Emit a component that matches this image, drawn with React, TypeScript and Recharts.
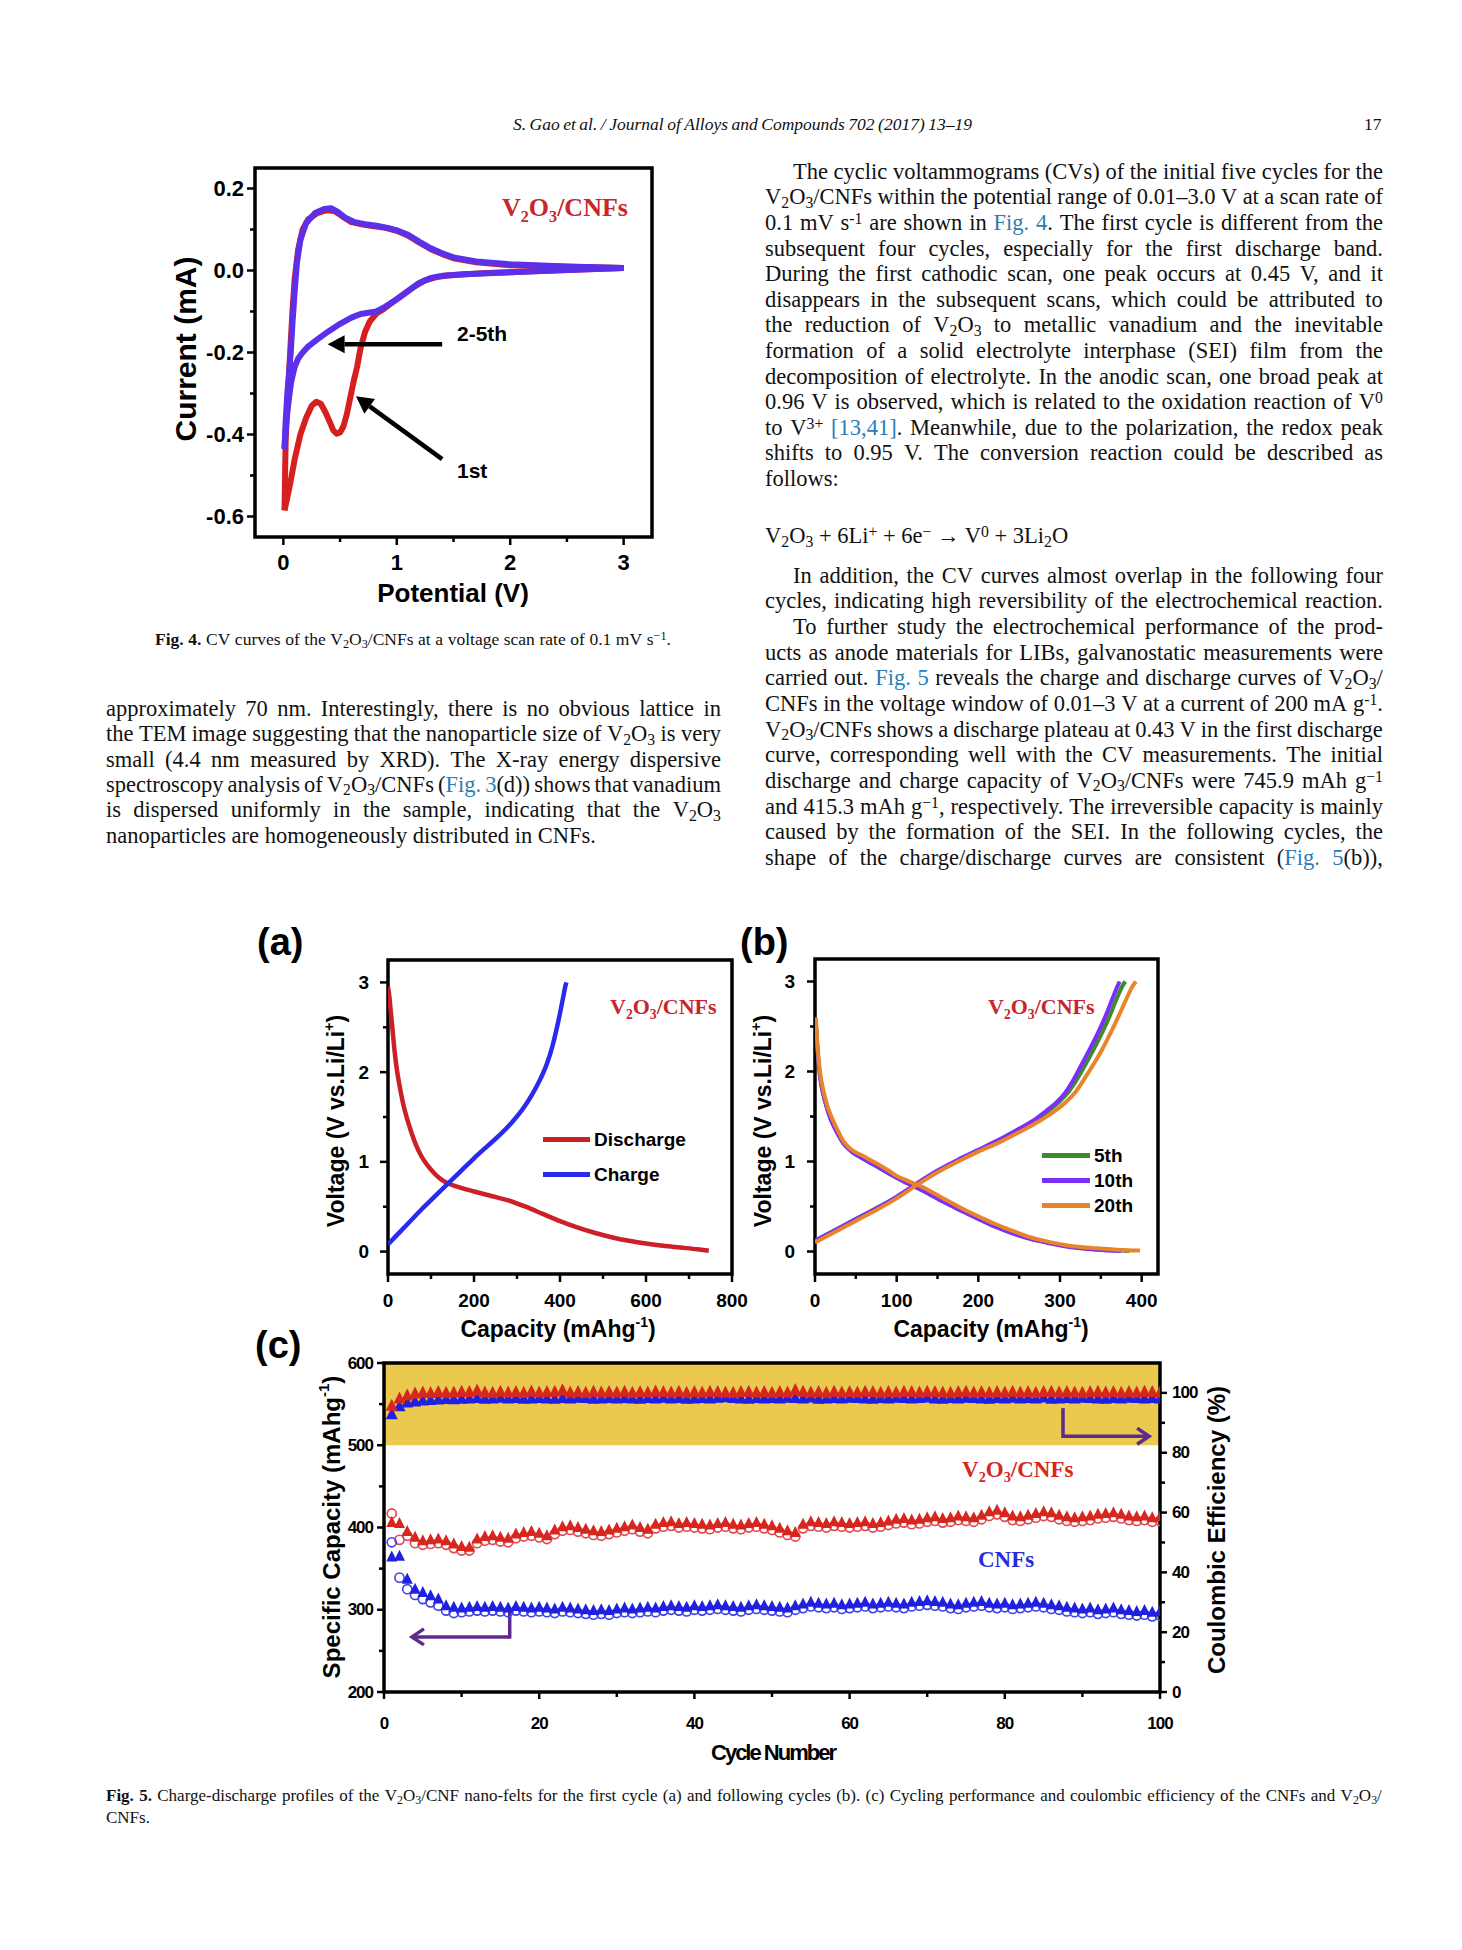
import React from 'react';
import {
  LineChart, Line, XAxis, YAxis, ReferenceArea, ReferenceLine, Customized, Legend,
  ScatterChart, Scatter,
} from 'recharts';

const SANS = "'Liberation Sans', Arial, Helvetica, sans-serif";
const SERIF = "'Liberation Serif', 'Times New Roman', serif";
const INK = '#111';
const LINK = '#2b7bb5';
const LABEL_RED = '#c9252c';

// ---------------- Fig. 4 (CV) data ----------------
const cv1CathV = [3.0, 2.8, 2.5, 2.2, 2.0, 1.8, 1.6, 1.45, 1.35, 1.25, 1.15, 1.05, 0.95, 0.88, 0.82, 0.76, 0.72, 0.68, 0.65, 0.62, 0.59, 0.56, 0.53, 0.5, 0.47, 0.44, 0.41, 0.37, 0.33, 0.29, 0.25, 0.2, 0.15, 0.1, 0.06, 0.03, 0.01];
const cv1CathI = [0.006, 0.004, 0.001, -0.002, -0.004, -0.006, -0.009, -0.012, -0.016, -0.024, -0.04, -0.06, -0.08, -0.095, -0.105, -0.125, -0.15, -0.19, -0.235, -0.27, -0.31, -0.35, -0.38, -0.395, -0.398, -0.39, -0.37, -0.345, -0.325, -0.32, -0.33, -0.36, -0.4, -0.46, -0.52, -0.56, -0.585];
const cv1AnodV = [0.01, 0.015, 0.02, 0.03, 0.045, 0.06, 0.08, 0.1, 0.13, 0.17, 0.22, 0.3, 0.38, 0.45, 0.52, 0.6, 0.7, 0.8, 0.9, 1.0, 1.1, 1.2, 1.3, 1.4, 1.5, 1.7, 2.0, 2.5, 3.0];
const cv1AnodI = [-0.585, -0.5, -0.42, -0.35, -0.28, -0.2, -0.1, -0.02, 0.05, 0.1, 0.125, 0.14, 0.147, 0.145, 0.132, 0.118, 0.112, 0.108, 0.104, 0.097, 0.085, 0.068, 0.052, 0.04, 0.03, 0.02, 0.013, 0.009, 0.006];
const cvCathV = [3.0, 2.5, 2.0, 1.6, 1.4, 1.3, 1.2, 1.1, 1.0, 0.9, 0.82, 0.75, 0.68, 0.6, 0.5, 0.4, 0.3, 0.22, 0.17, 0.13, 0.1, 0.07, 0.05, 0.03, 0.015, 0.01];
const cvCathI = [0.006, 0.001, -0.004, -0.009, -0.013, -0.018, -0.03, -0.05, -0.07, -0.088, -0.1, -0.103, -0.106, -0.115, -0.13, -0.148, -0.168, -0.185, -0.2, -0.215, -0.235, -0.27, -0.31, -0.36, -0.41, -0.435];
const cvAnodV = [0.01, 0.02, 0.035, 0.05, 0.065, 0.08, 0.1, 0.12, 0.15, 0.2, 0.28, 0.36, 0.42, 0.48, 0.55, 0.63, 0.72, 0.82, 0.92, 1.0, 1.1, 1.2, 1.3, 1.4, 1.5, 1.7, 2.0, 2.5, 3.0];
const cvAnodI = [-0.435, -0.37, -0.3, -0.25, -0.2, -0.13, -0.05, 0.02, 0.075, 0.115, 0.14, 0.15, 0.152, 0.143, 0.128, 0.118, 0.113, 0.109, 0.104, 0.098, 0.087, 0.07, 0.054, 0.042, 0.032, 0.022, 0.015, 0.01, 0.006];

// ---------------- Fig. 5(a) data ----------------
const aDisCap = [0, 3, 6, 10, 15, 20, 28, 36, 45, 55, 65, 78, 92, 108, 125, 145, 170, 200, 240, 280, 320, 360, 400, 440, 480, 520, 560, 600, 640, 680, 720, 746];
const aDisV = [2.95, 2.85, 2.7, 2.5, 2.25, 2.05, 1.82, 1.63, 1.47, 1.32, 1.19, 1.06, 0.96, 0.87, 0.8, 0.75, 0.71, 0.67, 0.62, 0.57, 0.5, 0.42, 0.34, 0.27, 0.21, 0.16, 0.12, 0.09, 0.065, 0.045, 0.025, 0.01];
const aChgCap = [0, 20, 50, 80, 110, 140, 170, 200, 230, 260, 290, 315, 335, 355, 370, 383, 393, 401, 408, 412, 415];
const aChgV = [0.08, 0.18, 0.33, 0.48, 0.62, 0.76, 0.9, 1.04, 1.17, 1.3, 1.45, 1.6, 1.75, 1.93, 2.1, 2.3, 2.5, 2.68, 2.85, 2.95, 3.0];

// ---------------- Fig. 5(b) data ----------------
const b5DisCap = [1, 3, 6, 10, 15, 20, 27, 35, 45, 59, 75, 90, 100, 115, 133, 155, 182, 205, 222, 245, 263, 285, 304, 325, 345, 365, 385];
const b5DisV = [2.55, 2.25, 1.96, 1.76, 1.59, 1.46, 1.33, 1.2, 1.11, 1.03, 0.95, 0.87, 0.82, 0.75, 0.68, 0.57, 0.45, 0.35, 0.28, 0.2, 0.145, 0.1, 0.065, 0.04, 0.025, 0.015, 0.005];
const b10DisCap = [1, 3, 6, 10, 15, 20, 27, 35, 45, 59, 75, 90, 100, 115, 133, 155, 182, 205, 222, 245, 263, 285, 304, 325, 345, 375];
const b10DisV = [2.55, 2.25, 1.95, 1.75, 1.58, 1.45, 1.32, 1.2, 1.11, 1.03, 0.95, 0.87, 0.82, 0.75, 0.67, 0.56, 0.44, 0.34, 0.27, 0.19, 0.14, 0.095, 0.06, 0.035, 0.02, 0.005];
const b20DisCap = [1, 3, 6, 10, 15, 20, 27, 35, 45, 59, 75, 90, 100, 115, 133, 155, 182, 205, 222, 245, 263, 285, 304, 325, 345, 370, 398];
const b20DisV = [2.6, 2.3, 2.0, 1.8, 1.62, 1.5, 1.36, 1.22, 1.13, 1.06, 0.98, 0.9, 0.84, 0.78, 0.71, 0.6, 0.47, 0.37, 0.3, 0.22, 0.16, 0.11, 0.075, 0.05, 0.035, 0.02, 0.01];
const b5ChgCap = [0, 25, 50, 75, 100, 125, 150, 175, 200, 225, 251, 272, 287, 300, 311, 322, 332, 342, 352, 361, 369, 377, 380];
const b5ChgV = [0.12, 0.24, 0.36, 0.48, 0.6, 0.75, 0.89, 1.01, 1.12, 1.23, 1.36, 1.47, 1.57, 1.67, 1.78, 1.93, 2.09, 2.26, 2.44, 2.62, 2.8, 2.96, 3.0];
const b10ChgCap = [0, 25, 50, 75, 100, 125, 150, 175, 200, 225, 251, 270, 284, 296, 306, 316, 326, 336, 346, 355, 363, 370, 373];
const b10ChgV = [0.12, 0.24, 0.36, 0.48, 0.61, 0.76, 0.9, 1.02, 1.13, 1.24, 1.37, 1.47, 1.57, 1.66, 1.76, 1.9, 2.07, 2.24, 2.42, 2.6, 2.78, 2.94, 3.0];
const b20ChgCap = [0, 25, 50, 75, 100, 125, 150, 175, 200, 225, 251, 275, 292, 306, 318, 330, 341, 352, 362, 372, 381, 389, 393];
const b20ChgV = [0.1, 0.22, 0.34, 0.46, 0.59, 0.74, 0.88, 1.0, 1.11, 1.21, 1.33, 1.45, 1.55, 1.65, 1.76, 1.92, 2.08, 2.25, 2.43, 2.62, 2.8, 2.95, 3.0];

// ---------------- Fig. 5(c) data (cycles 1..100) ----------------
const capV2O3Dis = [
  406, 405, 395, 388, 384, 385, 386, 384, 380, 377,
  376, 386, 389, 390, 388, 387, 392, 394, 395, 393,
  390, 397, 401, 402, 400, 398, 396, 395, 397, 399,
  401, 403, 400, 398, 404, 406, 407, 405, 406, 405,
  404, 403, 405, 406, 404, 403, 405, 406, 404, 402,
  399, 396, 394, 404, 407, 406, 405, 407, 406, 405,
  406, 407, 405, 406, 408, 410, 411, 409, 410, 412,
  413, 411, 412, 414, 413, 412, 415, 419, 421, 418,
  414, 413, 415, 417, 419, 418, 415, 413, 412, 413,
  414, 416, 417, 418, 416, 414, 413, 414, 412, 413];
const capV2O3Chg = [
  417, 385, 390, 381, 379, 380, 381, 379, 375, 372,
  372, 381, 384, 385, 383, 382, 387, 389, 390, 388,
  386, 392, 396, 397, 395, 393, 391, 390, 392, 394,
  396, 398, 395, 393, 399, 401, 402, 400, 401, 400,
  399, 398, 400, 401, 399, 398, 400, 401, 399, 397,
  394, 391, 389, 399, 402, 401, 400, 402, 401, 400,
  401, 402, 400, 401, 403, 405, 406, 404, 405, 407,
  408, 406, 407, 409, 408, 407, 410, 414, 416, 413,
  409, 408, 410, 412, 414, 413, 410, 408, 407, 408,
  409, 411, 412, 413, 411, 409, 408, 409, 407, 408];
const capCNFDis = [
  364, 365, 337, 325, 321, 317, 313, 305, 303, 302,
  303, 304, 303, 304, 303, 302, 304, 303, 302, 303,
  302, 301, 303, 302, 301, 300, 299, 300, 299, 301,
  302, 301, 302, 303, 302, 304, 305, 304, 303, 305,
  304, 305, 306, 305, 304, 303, 305, 306, 305, 304,
  303, 302, 305, 307, 309, 308, 307, 308, 306, 307,
  308, 309, 307, 308, 309, 308, 307, 309, 310, 311,
  310, 309, 307, 306, 308, 309, 310, 308, 307, 308,
  306, 307, 308, 309, 308, 306, 305, 303, 302, 301,
  302, 300, 301, 302, 300, 299, 298, 299, 297, 298];
const capCNFChg = [
  382, 339, 325, 318, 313, 309, 305, 299, 296, 297,
  298, 299, 298, 299, 298, 297, 299, 298, 297, 298,
  297, 296, 298, 297, 296, 295, 294, 295, 294, 296,
  297, 296, 297, 298, 297, 299, 300, 299, 298, 300,
  299, 300, 301, 300, 299, 298, 300, 301, 300, 299,
  298, 297, 300, 302, 304, 303, 302, 303, 301, 302,
  303, 304, 302, 303, 304, 303, 302, 304, 305, 306,
  305, 304, 302, 301, 303, 304, 305, 303, 302, 303,
  301, 302, 303, 304, 303, 301, 300, 298, 297, 296,
  297, 295, 296, 297, 295, 294, 293, 294, 292, 293];
const ceV2O3 = [
  95.5, 98.0, 99.0, 99.6, 100.0, 99.8, 100.1, 99.9, 100.0, 100.2,
  100.1, 100.6, 100.0, 99.9, 100.2, 100.0, 100.1, 99.9, 100.3, 100.0,
  100.1, 100.2, 100.7, 100.0, 100.1, 99.9, 100.2, 100.0, 100.1, 100.0,
  100.2, 99.9, 100.1, 100.0, 100.3, 100.1, 100.0, 100.2, 99.9, 100.1,
  100.0, 100.2, 100.1, 100.0, 99.9, 100.1, 100.2, 100.0, 100.1, 99.9,
  100.1, 100.0, 100.8, 100.2, 100.0, 100.1, 99.9, 100.2, 100.0, 100.1,
  100.0, 100.2, 100.1, 99.9, 100.1, 100.0, 100.2, 100.1, 100.0, 100.2,
  100.1, 100.0, 99.9, 100.1, 100.2, 100.0, 100.1, 99.9, 100.1, 100.0,
  100.2, 100.0, 100.1, 99.9, 100.1, 100.2, 100.0, 100.1, 100.0, 99.9,
  100.1, 100.2, 100.0, 100.1, 99.9, 100.1, 100.0, 100.2, 100.1, 100.0];
const ceCNF = [
  92.7, 95.4, 96.6, 97.0, 97.3, 97.5, 97.6, 97.8, 97.7, 97.9,
  98.0, 98.1, 97.9, 98.0, 98.2, 98.0, 98.1, 97.9, 98.0, 98.1,
  98.0, 97.9, 98.1, 98.0, 98.2, 98.1, 97.9, 98.0, 98.1, 98.0,
  98.1, 98.0, 97.9, 98.1, 98.0, 98.2, 98.0, 98.1, 97.9, 98.0,
  98.1, 98.0, 98.2, 98.4, 98.1, 98.0, 97.9, 98.1, 98.0, 98.1,
  98.0, 98.2, 98.1, 98.0, 98.3, 97.9, 98.0, 98.1, 98.0, 98.2,
  98.1, 98.0, 97.9, 98.1, 98.0, 98.2, 98.1, 98.0, 98.1, 98.3,
  98.0, 97.9, 98.1, 98.0, 98.2, 98.1, 98.0, 97.9, 98.1, 98.0,
  98.2, 98.0, 98.1, 98.0, 98.3, 97.9, 98.0, 98.1, 98.0, 98.2,
  98.1, 98.0, 97.9, 98.1, 98.0, 98.2, 98.1, 98.0, 98.1, 98.0];

// axis tick values
const f4XTicks = [0, 0.5, 1, 1.5, 2, 2.5, 3];
const f4XMajor = [0, 1, 2, 3];
const f4YTicks = [-0.6, -0.5, -0.4, -0.3, -0.2, -0.1, 0, 0.1, 0.2];
const f4YMajor = [-0.6, -0.4, -0.2, 0, 0.2];
const aXTicks = [0, 100, 200, 300, 400, 500, 600, 700, 800];
const aXMajor = [0, 200, 400, 600, 800];
const vTicks = [0, 0.5, 1, 1.5, 2, 2.5, 3];
const vMajor = [0, 1, 2, 3];
const bXTicks = [0, 50, 100, 150, 200, 250, 300, 350, 400];
const bXMajor = [0, 100, 200, 300, 400];
const cXTicks = [0, 10, 20, 30, 40, 50, 60, 70, 80, 90, 100];
const cXMajor = [0, 20, 40, 60, 80, 100];
const cLTicks = [200, 250, 300, 350, 400, 450, 500, 550, 600];
const cLMajor = [200, 300, 400, 500, 600];
const cRTicks = [0, 10, 20, 30, 40, 50, 60, 70, 80, 90, 100];
const cRMajor = [0, 20, 40, 60, 80, 100];

const zip = (xs: number[], ys: number[]) =>
  xs.slice(0, Math.min(xs.length, ys.length)).map((x, i) => ({ x, y: ys[i] }));
const cycles = capV2O3Dis.map((_, i) => i + 1);
const series = (vals: number[]) => vals.map((v, i) => ({ cycle: cycles[i], v }));

// ---------------- tick renderers ----------------
type TickCfg = { majors: number[]; fmt: (v: number) => string; major: number; minor: number; offset: number; size: number; spacing?: number };
const isMajor = (list: number[], v: number) => list.some((m) => Math.abs(m - v) < 1e-6);

const bottomTick = (c: TickCfg) => (p: any) => {
  const v = Number(p.payload?.value);
  const mj = isMajor(c.majors, v);
  return (
    <g>
      <line x1={p.x} y1={p.y} x2={p.x} y2={p.y + (mj ? c.major : c.minor)} stroke="#000" strokeWidth={2.5} />
      {mj && (
        <text x={p.x} y={p.y + c.offset} textAnchor="middle" dominantBaseline="central" fontFamily={SANS}
          fontWeight="bold" fontSize={c.size} letterSpacing={c.spacing || 0} fill="#000">{c.fmt(v)}</text>
      )}
    </g>
  );
};
const leftTick = (c: TickCfg) => (p: any) => {
  const v = Number(p.payload?.value);
  const mj = isMajor(c.majors, v);
  return (
    <g>
      <line x1={p.x} y1={p.y} x2={p.x - (mj ? c.major : c.minor)} y2={p.y} stroke="#000" strokeWidth={2.5} />
      {mj && (
        <text x={p.x - c.offset} y={p.y} textAnchor="end" dominantBaseline="central" fontFamily={SANS}
          fontWeight="bold" fontSize={c.size} letterSpacing={c.spacing || 0} fill="#000">{c.fmt(v)}</text>
      )}
    </g>
  );
};
const rightTick = (c: TickCfg) => (p: any) => {
  const v = Number(p.payload?.value);
  const mj = isMajor(c.majors, v);
  return (
    <g>
      <line x1={p.x} y1={p.y} x2={p.x + (mj ? c.major : c.minor)} y2={p.y} stroke="#000" strokeWidth={2.5} />
      {mj && (
        <text x={p.x + c.offset} y={p.y} textAnchor="start" dominantBaseline="central" fontFamily={SANS}
          fontWeight="bold" fontSize={c.size} letterSpacing={c.spacing || 0} fill="#000">{c.fmt(v)}</text>
      )}
    </g>
  );
};

const axisCommon = { axisLine: false, tickLine: false, tickSize: 0, tickMargin: 0, interval: 0 as const, allowDataOverflow: true };

// ---------------- arrow shapes ----------------
const arrowGeom = (x1: number, y1: number, x2: number, y2: number, L: number, W: number) => {
  const a = Math.atan2(y2 - y1, x2 - x1);
  const bx = x2 - L * Math.cos(a);
  const by = y2 - L * Math.sin(a);
  const px = -Math.sin(a) * W;
  const py = Math.cos(a) * W;
  return { bx, by, px, py };
};
const blackArrow = (p: any) => {
  const { x1, y1, x2, y2 } = p;
  const g = arrowGeom(x1, y1, x2, y2, 17, 9);
  return (
    <g>
      <line x1={x1} y1={y1} x2={g.bx} y2={g.by} stroke="#000" strokeWidth={4.5} />
      <polygon points={`${x2},${y2} ${g.bx + g.px},${g.by + g.py} ${g.bx - g.px},${g.by - g.py}`} fill="#000" />
    </g>
  );
};
const PURPLE = '#5f2a8e';
const purpleSeg = (p: any) => (
  <line x1={p.x1} y1={p.y1} x2={p.x2} y2={p.y2} stroke={PURPLE} strokeWidth={3.5} strokeLinecap="square" />
);
const purpleArrow = (p: any) => {
  const { x1, y1, x2, y2 } = p;
  const g = arrowGeom(x1, y1, x2, y2, 12, 8);
  return (
    <g>
      <line x1={x1} y1={y1} x2={x2} y2={y2} stroke={PURPLE} strokeWidth={3.5} />
      <polyline points={`${g.bx + g.px},${g.by + g.py} ${x2},${y2} ${g.bx - g.px},${g.by - g.py}`} fill="none"
        stroke={PURPLE} strokeWidth={3.5} strokeLinejoin="miter" />
    </g>
  );
};

// ---------------- chemistry labels (SVG) ----------------
const ChemV2O3 = ({ x, y, size, fill }: any) => (
  <text x={x} y={y} fontFamily={SERIF} fontWeight="bold" fontSize={size} fill={fill}>
    V<tspan fontSize={size * 0.62} dy={size * 0.22}>2</tspan>
    <tspan dy={-size * 0.22}>O</tspan>
    <tspan fontSize={size * 0.62} dy={size * 0.22}>3</tspan>
    <tspan dy={-size * 0.22}>/CNFs</tspan>
  </text>
);

const rot = (x: number, y: number) => `rotate(-90 ${x} ${y})`;

// ---------------- Fig 4 ----------------
const Fig4Notes = () => (
  <g fontFamily={SANS} fontWeight="bold" fill="#000">
    <text x={35} y={199} transform={rot(35, 199)} textAnchor="middle" dominantBaseline="central" fontSize={30}>Current (mA)</text>
    <text x={303} y={443} textAnchor="middle" dominantBaseline="central" fontSize={26}>Potential (V)</text>
    <ChemV2O3 x={352} y={66} size={26} fill={LABEL_RED} />
    <text x={307} y={183} dominantBaseline="central" fontSize={21}>2-5th</text>
    <text x={307} y={320} dominantBaseline="central" fontSize={21}>1st</text>
  </g>
);

function Fig4() {
  const red = '#d6201f';
  const blue = '#5c2fea';
  return (
    <div style={{ position: 'absolute', left: 150, top: 150 }}>
      <LineChart width={540} height={480} margin={{ top: 18, right: 38, left: 0, bottom: 0 }}>
        <XAxis dataKey="x" type="number" domain={[-0.25, 3.25]} ticks={f4XTicks} height={93} {...axisCommon}
          tick={bottomTick({ majors: f4XMajor, fmt: (v) => String(v), major: 8, minor: 5, offset: 25, size: 22 })} />
        <YAxis dataKey="y" type="number" domain={[-0.65, 0.25]} ticks={f4YTicks} width={105} {...axisCommon}
          tick={leftTick({ majors: f4YMajor, fmt: (v) => v.toFixed(1), major: 8, minor: 5, offset: 11, size: 22 })} />
        <Line data={zip(cv1CathV, cv1CathI)} dataKey="y" type="linear" dot={false} stroke={red} strokeWidth={6} isAnimationActive={false} strokeLinejoin="round" />
        <Line data={zip(cv1AnodV, cv1AnodI)} dataKey="y" type="linear" dot={false} stroke={red} strokeWidth={6} isAnimationActive={false} strokeLinejoin="round" />
        <Line data={zip(cvCathV, cvCathI)} dataKey="y" type="linear" dot={false} stroke={blue} strokeWidth={6} isAnimationActive={false} strokeLinejoin="round" />
        <Line data={zip(cvAnodV, cvAnodI)} dataKey="y" type="linear" dot={false} stroke={blue} strokeWidth={6} isAnimationActive={false} strokeLinejoin="round" />
        <ReferenceArea x1={-0.25} x2={3.25} y1={-0.65} y2={0.25} fill="none" stroke="#000" strokeWidth={3.5} />
        <ReferenceLine segment={[{ x: 1.4, y: -0.18 }, { x: 0.39, y: -0.18 }]} shape={blackArrow} />
        <ReferenceLine segment={[{ x: 1.4, y: -0.46 }, { x: 0.64, y: -0.307 }]} shape={blackArrow} />
        <Customized component={Fig4Notes} />
      </LineChart>
    </div>
  );
}

// ---------------- Fig 5 legend ----------------
const makeLegend = (order: string[], rowH: number, lineW: number) => (props: any) => {
  const items = (props.payload || [])
    .filter((p: any) => order.includes(p.value))
    .sort((a: any, b: any) => order.indexOf(a.value) - order.indexOf(b.value));
  return (
    <div>
      {items.map((p: any) => (
        <div key={p.value} style={{ display: 'flex', alignItems: 'center', height: rowH }}>
          <span style={{ display: 'inline-block', width: lineW, height: 5, background: p.color, marginRight: 4 }} />
          <span style={{ fontFamily: SANS, fontWeight: 'bold', fontSize: 19, color: '#000', lineHeight: rowH + 'px' }}>{p.value}</span>
        </div>
      ))}
    </div>
  );
};

const VoltTitle = ({ x, y }: any) => (
  <text x={x} y={y} transform={rot(x, y)} textAnchor="middle" dominantBaseline="central" fontSize={23}>
    Voltage (V vs.Li/Li<tspan fontSize={14} dy={-7}>+</tspan><tspan dy={7}>)</tspan>
  </text>
);
const CapTitle = ({ x, y }: any) => (
  <text x={x} y={y} textAnchor="middle" dominantBaseline="central" fontSize={23}>
    Capacity (mAhg<tspan fontSize={14} dy={-7}>-1</tspan><tspan dy={7}>)</tspan>
  </text>
);

const FigANotes = () => (
  <g fontFamily={SANS} fontWeight="bold" fill="#000">
    <text x={17} y={27} dominantBaseline="central" fontSize={38}>(a)</text>
    <VoltTitle x={96} y={206} />
    <CapTitle x={318} y={414} />
    <ChemV2O3 x={370} y={99} size={22} fill={LABEL_RED} />
  </g>
);
const FigBNotes = () => (
  <g fontFamily={SANS} fontWeight="bold" fill="#000">
    <text x={10} y={27} dominantBaseline="central" fontSize={38}>(b)</text>
    <VoltTitle x={33} y={206} />
    <CapTitle x={261} y={414} />
    <ChemV2O3 x={258} y={99} size={22} fill={LABEL_RED} />
  </g>
);

function Fig5a() {
  return (
    <div style={{ position: 'absolute', left: 240, top: 915 }}>
      <LineChart width={510} height={435} margin={{ top: 45, right: 18, left: 0, bottom: 0 }}>
        <XAxis dataKey="x" type="number" domain={[0, 800]} ticks={aXTicks} height={76} {...axisCommon}
          tick={bottomTick({ majors: aXMajor, fmt: (v) => String(v), major: 8, minor: 5, offset: 26, size: 19 })} />
        <YAxis dataKey="y" type="number" domain={[-0.25, 3.25]} ticks={vTicks} width={148} {...axisCommon}
          tick={leftTick({ majors: vMajor, fmt: (v) => String(v), major: 8, minor: 5, offset: 19, size: 19 })} />
        <Line name="Discharge" data={zip(aDisCap, aDisV)} dataKey="y" type="monotone" dot={false} stroke="#cc2027" strokeWidth={4.5} isAnimationActive={false} />
        <Line name="Charge" data={zip(aChgCap, aChgV)} dataKey="y" type="monotone" dot={false} stroke="#2a2aee" strokeWidth={4.5} isAnimationActive={false} />
        <ReferenceArea x1={0} x2={800} y1={-0.25} y2={3.25} fill="none" stroke="#000" strokeWidth={3.5} />
        <Legend layout="vertical" align="center" verticalAlign="middle" wrapperStyle={{ left: 303, top: 206.5, width: 200 }}
          content={makeLegend(['Discharge', 'Charge'], 35, 47)} />
        <Customized component={FigANotes} />
      </LineChart>
    </div>
  );
}

function Fig5b() {
  const green = '#3c8c2c';
  const purple = '#7b2ff7';
  const orange = '#e8842a';
  return (
    <div style={{ position: 'absolute', left: 730, top: 915 }}>
      <LineChart width={450} height={435} margin={{ top: 44, right: 22, left: 0, bottom: 0 }}>
        <XAxis dataKey="x" type="number" domain={[0, 420]} ticks={bXTicks} height={76} {...axisCommon}
          tick={bottomTick({ majors: bXMajor, fmt: (v) => String(v), major: 8, minor: 5, offset: 26, size: 19 })} />
        <YAxis dataKey="y" type="number" domain={[-0.25, 3.25]} ticks={vTicks} width={85} {...axisCommon}
          tick={leftTick({ majors: vMajor, fmt: (v) => String(v), major: 8, minor: 5, offset: 20, size: 19 })} />
        <Line name="5th" data={zip(b5DisCap, b5DisV)} dataKey="y" type="monotone" dot={false} stroke={green} strokeWidth={4} isAnimationActive={false} />
        <Line name="5th charge" legendType="none" data={zip(b5ChgCap, b5ChgV)} dataKey="y" type="monotone" dot={false} stroke={green} strokeWidth={4} isAnimationActive={false} />
        <Line name="10th" data={zip(b10DisCap, b10DisV)} dataKey="y" type="monotone" dot={false} stroke={purple} strokeWidth={4} isAnimationActive={false} />
        <Line name="10th charge" legendType="none" data={zip(b10ChgCap, b10ChgV)} dataKey="y" type="monotone" dot={false} stroke={purple} strokeWidth={4} isAnimationActive={false} />
        <Line name="20th" data={zip(b20DisCap, b20DisV)} dataKey="y" type="monotone" dot={false} stroke={orange} strokeWidth={4} isAnimationActive={false} />
        <Line name="20th charge" legendType="none" data={zip(b20ChgCap, b20ChgV)} dataKey="y" type="monotone" dot={false} stroke={orange} strokeWidth={4} isAnimationActive={false} />
        <ReferenceArea x1={0} x2={420} y1={-0.25} y2={3.25} fill="none" stroke="#000" strokeWidth={3.5} />
        <Legend layout="vertical" align="center" verticalAlign="middle" wrapperStyle={{ left: 312, top: 227.5, width: 130 }}
          content={makeLegend(['5th', '10th', '20th'], 25, 48)} />
        <Customized component={FigBNotes} />
      </LineChart>
    </div>
  );
}

// ---------------- Fig 5(c) ----------------
const RED_C = '#d7261e';
const BLUE_C = '#2020e0';
const triShape = (fill: string, hw: number, up: number, down: number) => (p: any) => (
  <polygon points={`${p.cx},${p.cy - up} ${p.cx - hw},${p.cy + down} ${p.cx + hw},${p.cy + down}`} fill={fill} />
);
const circShape = (stroke: string) => (p: any) => (
  <circle cx={p.cx} cy={p.cy} r={4.6} fill="none" stroke={stroke} strokeWidth={1.6} />
);

const FigCNotes = () => (
  <g fontFamily={SANS} fontWeight="bold" fill="#000">
    <text x={15} y={25} dominantBaseline="central" fontSize={38}>(c)</text>
    <text x={91} y={207} transform={rot(91, 207)} textAnchor="middle" dominantBaseline="central" fontSize={24}>
      Specific Capacity (mAhg<tspan fontSize={15} dy={-8}>-1</tspan><tspan dy={8}>)</tspan>
    </text>
    <text x={976} y={210} transform={rot(976, 210)} textAnchor="middle" dominantBaseline="central" fontSize={24}>Coulombic Efficiency (%)</text>
    <text x={533} y={432} textAnchor="middle" dominantBaseline="central" fontSize={22} letterSpacing={-2}>Cycle Number</text>
    <ChemV2O3 x={722} y={157} size={23} fill={RED_C} />
    <text x={738} y={247} fontFamily={SERIF} fontWeight="bold" fontSize={23} fill="#2b2bd8">CNFs</text>
  </g>
);

function Fig5c() {
  return (
    <div style={{ position: 'absolute', left: 240, top: 1320 }}>
      <ScatterChart width={1020} height={450} margin={{ top: 43, right: 0, left: 0, bottom: 0 }}>
        <XAxis dataKey="cycle" type="number" domain={[0, 100]} ticks={cXTicks} height={78} {...axisCommon}
          tick={bottomTick({ majors: cXMajor, fmt: (v) => String(v), major: 7, minor: 5, offset: 31, size: 17, spacing: -1 })} />
        <YAxis yAxisId="left" dataKey="v" type="number" domain={[200, 600]} ticks={cLTicks} width={144} {...axisCommon}
          tick={leftTick({ majors: cLMajor, fmt: (v) => String(v), major: 7, minor: 5, offset: 11, size: 17, spacing: -1 })} />
        <YAxis yAxisId="right" orientation="right" dataKey="v" type="number" domain={[0, 110]} ticks={cRTicks} width={100} {...axisCommon}
          tick={rightTick({ majors: cRMajor, fmt: (v) => String(v), major: 7, minor: 5, offset: 12, size: 17, spacing: -1 })} />
        <ReferenceArea yAxisId="left" x1={0} x2={100} y1={500} y2={600} fill="#eac94e" fillOpacity={1} stroke="none" />
        <Scatter yAxisId="left" data={series(capV2O3Chg)} shape={circShape('#e04850')} isAnimationActive={false} />
        <Scatter yAxisId="left" data={series(capV2O3Dis)} shape={triShape(RED_C, 5.5, 6.5, 4.5)} isAnimationActive={false} />
        <Scatter yAxisId="left" data={series(capCNFChg)} shape={circShape('#4040e8')} isAnimationActive={false} />
        <Scatter yAxisId="left" data={series(capCNFDis)} shape={triShape(BLUE_C, 5.5, 6.5, 4.5)} isAnimationActive={false} />
        <Scatter yAxisId="right" data={series(ceCNF)} shape={triShape(BLUE_C, 6, 7.5, 4.5)} isAnimationActive={false} />
        <Scatter yAxisId="right" data={series(ceV2O3)} shape={triShape(RED_C, 6, 7.5, 4.5)} isAnimationActive={false} />
        <ReferenceArea yAxisId="left" x1={0} x2={100} y1={200} y2={600} fill="none" stroke="#000" strokeWidth={3.5} />
        <ReferenceLine yAxisId="left" segment={[{ x: 16.2, y: 297 }, { x: 16.2, y: 267 }]} shape={purpleSeg} />
        <ReferenceLine yAxisId="left" segment={[{ x: 16.2, y: 267 }, { x: 3.6, y: 267 }]} shape={purpleArrow} />
        <ReferenceLine yAxisId="left" segment={[{ x: 87.5, y: 543 }, { x: 87.5, y: 511 }]} shape={purpleSeg} />
        <ReferenceLine yAxisId="left" segment={[{ x: 87.5, y: 511 }, { x: 98.6, y: 511 }]} shape={purpleArrow} />
        <Customized component={FigCNotes} />
      </ScatterChart>
    </div>
  );
}

// ---------------- page text ----------------
const TOKEN = /(_\{[^}]*\}|\^\{[^}]*\}|\{\{[^}]*\}\}|\*\*[^*]+\*\*)/;
function rich(word: string): React.ReactNode[] {
  return word.split(TOKEN).filter((s) => s.length > 0).map((p, i) => {
    if (p.startsWith('_{')) return <span key={i} style={{ fontSize: '0.7em', position: 'relative', top: '0.22em', lineHeight: 1 }}>{p.slice(2, -1)}</span>;
    if (p.startsWith('^{')) return <span key={i} style={{ fontSize: '0.7em', position: 'relative', top: '-0.38em', lineHeight: 1 }}>{p.slice(2, -1)}</span>;
    if (p.startsWith('{{')) return <span key={i} style={{ color: LINK }}>{p.slice(2, -2)}</span>;
    if (p.startsWith('**')) return <b key={i}>{p.slice(2, -2)}</b>;
    return <React.Fragment key={i}>{p}</React.Fragment>;
  });
}

function TextLine({ text, left, width, cy, justify, size, lh, italic }: any) {
  const words = text.split(' ');
  const style: React.CSSProperties = {
    position: 'absolute', left, top: cy - lh / 2, width, height: lh, lineHeight: lh + 'px',
    fontSize: size, fontFamily: SERIF, color: INK, whiteSpace: 'nowrap', fontStyle: italic ? 'italic' : 'normal',
  };
  if (justify) {
    return (
      <div style={{ ...style, display: 'flex', justifyContent: 'space-between' }}>
        {words.map((w: string, i: number) => <span key={i}>{rich(w)}</span>)}
      </div>
    );
  }
  return (
    <div style={style}>
      {words.map((w: string, i: number) => <React.Fragment key={i}>{i > 0 ? ' ' : ''}{rich(w)}</React.Fragment>)}
    </div>
  );
}

const leftLines = [
  'approximately 70 nm. Interestingly, there is no obvious lattice in',
  'the TEM image suggesting that the nanoparticle size of V_{2}O_{3} is very',
  'small (4.4 nm measured by XRD). The X-ray energy dispersive',
  'spectroscopy analysis of V_{2}O_{3}/CNFs ({{Fig.}} {{3}}(d)) shows that vanadium',
  'is dispersed uniformly in the sample, indicating that the V_{2}O_{3}',
  'nanoparticles are homogeneously distributed in CNFs.',
];
const rightLines1 = [
  'The cyclic voltammograms (CVs) of the initial five cycles for the',
  'V_{2}O_{3}/CNFs within the potential range of 0.01–3.0 V at a scan rate of',
  '0.1 mV s^{-1} are shown in {{Fig.}} {{4}}. The first cycle is different from the',
  'subsequent four cycles, especially for the first discharge band.',
  'During the first cathodic scan, one peak occurs at 0.45 V, and it',
  'disappears in the subsequent scans, which could be attributed to',
  'the reduction of V_{2}O_{3} to metallic vanadium and the inevitable',
  'formation of a solid electrolyte interphase (SEI) film from the',
  'decomposition of electrolyte. In the anodic scan, one broad peak at',
  '0.96 V is observed, which is related to the oxidation reaction of V^{0}',
  'to V^{3+} {{[13,41]}}. Meanwhile, due to the polarization, the redox peak',
  'shifts to 0.95 V. The conversion reaction could be described as',
  'follows:',
];
const equationLine = 'V_{2}O_{3} + 6Li^{+} + 6e^{−} → V^{0} + 3Li_{2}O';
const rightLines2 = [
  'In addition, the CV curves almost overlap in the following four',
  'cycles, indicating high reversibility of the electrochemical reaction.',
  'To further study the electrochemical performance of the prod-',
  'ucts as anode materials for LIBs, galvanostatic measurements were',
  'carried out. {{Fig.}} {{5}} reveals the charge and discharge curves of V_{2}O_{3}/',
  'CNFs in the voltage window of 0.01–3 V at a current of 200 mA g^{-1}.',
  'V_{2}O_{3}/CNFs shows a discharge plateau at 0.43 V in the first discharge',
  'curve, corresponding well with the CV measurements. The initial',
  'discharge and charge capacity of V_{2}O_{3}/CNFs were 745.9 mAh g^{−1}',
  'and 415.3 mAh g^{−1}, respectively. The irreversible capacity is mainly',
  'caused by the formation of the SEI. In the following cycles, the',
  'shape of the charge/discharge curves are consistent ({{Fig.}} {{5}}(b)),',
];
const headerText = 'S. Gao et al. / Journal of Alloys and Compounds 702 (2017) 13–19';
const pageNumber = '17';
const caption4 = '**Fig.** **4.** CV curves of the V_{2}O_{3}/CNFs at a voltage scan rate of 0.1 mV s^{−1}.';
const caption5a = '**Fig.** **5.** Charge-discharge profiles of the V_{2}O_{3}/CNF nano-felts for the first cycle (a) and following cycles (b). (c) Cycling performance and coulombic efficiency of the CNFs and V_{2}O_{3}/';
const caption5b = 'CNFs.';

const BODY = 22.5;
const LH = 25.6;

export default function App() {
  return (
    <div style={{ position: 'absolute', left: 0, top: 0, width: 1462, height: 1950, background: '#fff', overflow: 'hidden' }}>
      <TextLine text={headerText} left={513} width={459} cy={124} justify size={17.5} lh={22} italic />
      <TextLine text={pageNumber} left={1364} width={30} cy={124} size={17.5} lh={22} />

      <Fig4 />
      <TextLine text={caption4} left={155} width={516} cy={639} justify size={17.5} lh={22} />

      {leftLines.map((t, i) => (
        <TextLine key={'l' + i} text={t} left={106} width={615} cy={708.6 + i * 25.4}
          justify={i < leftLines.length - 1} size={BODY} lh={LH} />
      ))}

      {rightLines1.map((t, i) => (
        <TextLine key={'r1' + i} text={t} left={i === 0 ? 793 : 765} width={i === 0 ? 590 : 618} cy={171.6 + i * 25.6}
          justify={i < rightLines1.length - 1} size={BODY} lh={LH} />
      ))}
      <TextLine text={equationLine} left={765} width={400} cy={536} size={BODY} lh={LH} />
      {rightLines2.map((t, i) => (
        <TextLine key={'r2' + i} text={t} left={i === 0 || i === 2 ? 793 : 765} width={i === 0 || i === 2 ? 590 : 618}
          cy={575.6 + i * 25.65} justify size={BODY} lh={LH} />
      ))}

      <Fig5a />
      <Fig5b />
      <Fig5c />

      <TextLine text={caption5a} left={106} width={1276} cy={1796} justify size={17} lh={22} />
      <TextLine text={caption5b} left={106} width={200} cy={1818} size={17} lh={22} />
    </div>
  );
}
